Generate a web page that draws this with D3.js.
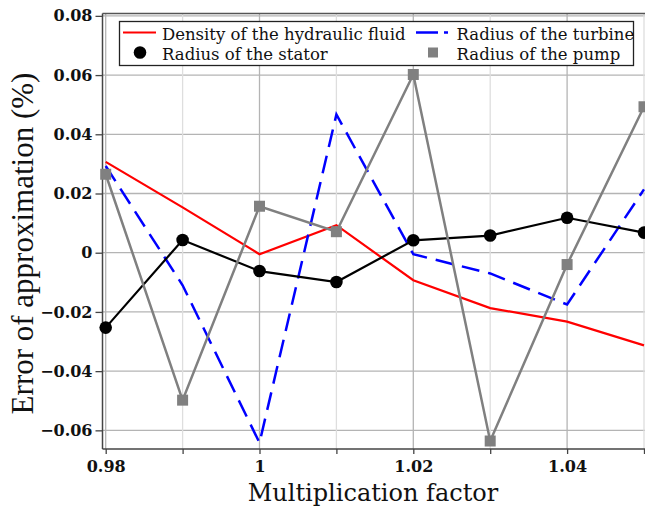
<!DOCTYPE html>
<html>
<head>
<meta charset="utf-8">
<script src="https://cdn.jsdelivr.net/npm/d3@7"></script>
<style>
  html, body { margin: 0; padding: 0; background: #fff; overflow: hidden; }
  svg { display: block; }
</style>
</head>
<body>
<svg id="chart" width="645" height="506"></svg>
<script>
// Multiplication factors applied to each parameter
const factors = [0.98, 0.99, 1.00, 1.01, 1.02, 1.03, 1.04, 1.05];

// Error of approximation (%) for each varied parameter
const densityFluid = [0.0307, 0.0153, -0.0005, 0.0093, -0.0093, -0.0187, -0.0233, -0.0313];
const radiusTurbine = [0.0293, -0.011, -0.0642, 0.0467, -0.0005, -0.007, -0.0175, 0.0214];
const radiusStator = [-0.0253, 0.0043, -0.0062, -0.0099, 0.0042, 0.0058, 0.0118, 0.0068];
const radiusPump = [0.0265, -0.0498, 0.0157, 0.0071, 0.0602, -0.0636, -0.004, 0.0493];

// Axis ticks
const yTicks = [-0.06, -0.04, -0.02, 0, 0.02, 0.04, 0.06, 0.08];
const yTickLabels = ["\u22120.06", "\u22120.04", "\u22120.02", "0", "0.02", "0.04", "0.06", "0.08"];
const xTicks = [0.98, 0.99, 1.00, 1.01, 1.02, 1.03, 1.04, 1.05];
const xTickLabels = ["0.98", "", "1", "", "1.02", "", "1.04", ""];

const seriesNames = ["Density of the hydraulic fluid", "Radius of the turbine", "Radius of the stator", "Radius of the pump"];

const svg = d3.select("#chart");
const plotLeft = 102.5, plotRight = 645, plotTop = 13.5, plotBottom = 449;

const x = d3.scaleLinear().domain([0.98, 1.05]).range([105.7, 644]);
const y = d3.scaleLinear().domain([-0.0663, 0.0808]).range([plotBottom, plotTop]);

// Grid
const grid = svg.append("g");
grid.selectAll("line.h").data(yTicks).join("line")
  .attr("x1", plotLeft).attr("x2", plotRight)
  .attr("y1", d => y(d)).attr("y2", d => y(d))
  .attr("stroke", "#b4b4b4").attr("stroke-width", 1.3);
grid.selectAll("line.v").data(xTicks).join("line")
  .attr("x1", d => x(d)).attr("x2", d => x(d))
  .attr("y1", plotTop).attr("y2", plotBottom)
  .attr("stroke", (d, i) => i % 2 === 0 ? "#b4b4b4" : "#dedede")
  .attr("stroke-width", 1.3);

// Frame line along the top
svg.append("line").attr("x1", plotLeft).attr("x2", plotRight).attr("y1", plotTop).attr("y2", plotTop)
  .attr("stroke", "#555").attr("stroke-width", 1.3);

// Axes
const yAxis = d3.axisLeft(y).tickValues(yTicks).tickSize(7).tickPadding(3)
  .tickFormat((d, i) => yTickLabels[i]);
const gy = svg.append("g").attr("transform", `translate(${plotLeft},0)`).call(yAxis);
gy.select(".domain").attr("d", `M0,${plotTop}V${plotBottom}`).attr("stroke", "#444").attr("stroke-width", 1.5);

const xAxis = d3.axisBottom(x).tickValues(xTicks).tickSize(5).tickPadding(7)
  .tickFormat((d, i) => xTickLabels[i]);
const gx = svg.append("g").attr("transform", `translate(0,${plotBottom})`).call(xAxis);
gx.select(".domain").attr("d", `M${plotLeft},0H${plotRight}`).attr("stroke", "#444").attr("stroke-width", 1.5);
// unlabeled minor ticks carry no text element
gx.selectAll(".tick text").filter(function () { return this.textContent === ""; }).remove();

[gx, gy].forEach(g => {
  g.selectAll(".tick line").attr("stroke", "#444").attr("stroke-width", 1.3);
  g.selectAll(".tick text")
    .attr("fill", "#111")
    .style("font-family", "'DejaVu Serif', serif")
    .style("font-weight", "bold")
    .style("font-size", "16px");
});

// Axis titles
svg.append("text")
  .attr("x", 373).attr("y", 500.5)
  .attr("text-anchor", "middle")
  .attr("fill", "#111")
  .style("font-family", "'DejaVu Serif', serif")
  .style("font-size", "24px")
  .text("Multiplication factor");

svg.append("text")
  .attr("transform", "translate(33,243.5) rotate(-90)")
  .attr("text-anchor", "middle")
  .attr("fill", "#111")
  .style("font-family", "'Liberation Serif', 'Times New Roman', serif")
  .style("font-size", "31px")
  .text("Error of approximation (%)");

// Series
const line = d3.line().x((d, i) => x(factors[i])).y(d => y(d));
const plot = svg.append("g");

plot.append("path").datum(densityFluid).attr("d", line)
  .attr("fill", "none").attr("stroke", "#ff0000").attr("stroke-width", 2.2);

plot.append("path").datum(radiusTurbine).attr("d", line)
  .attr("fill", "none").attr("stroke", "#0000ff").attr("stroke-width", 2.5)
  .attr("stroke-dasharray", "18,9");

plot.append("path").datum(radiusStator).attr("d", line)
  .attr("fill", "none").attr("stroke", "#000").attr("stroke-width", 2.2);
plot.selectAll("circle.stator").data(radiusStator).join("circle")
  .attr("cx", (d, i) => x(factors[i])).attr("cy", d => y(d)).attr("r", 6.3)
  .attr("fill", "#000");

plot.append("path").datum(radiusPump).attr("d", line)
  .attr("fill", "none").attr("stroke", "#808080").attr("stroke-width", 2.5);
const sq = 11;
plot.selectAll("rect.pump").data(radiusPump).join("rect")
  .attr("x", (d, i) => x(factors[i]) - sq / 2).attr("y", d => y(d) - sq / 2)
  .attr("width", sq).attr("height", sq)
  .attr("fill", "#808080");

// Legend
const lg = svg.append("g");
lg.append("rect").attr("x", 119.5).attr("y", 21.5).attr("width", 514).attr("height", 44)
  .attr("fill", "#fff").attr("stroke", "#222").attr("stroke-width", 1.3);

const legendText = (tx, ty, s) => lg.append("text").attr("x", tx).attr("y", ty)
  .attr("fill", "#111")
  .style("font-family", "'DejaVu Serif', serif")
  .style("font-size", "16.5px")
  .text(s);

lg.append("line").attr("x1", 123).attr("x2", 156).attr("y1", 32.5).attr("y2", 32.5)
  .attr("stroke", "#ff0000").attr("stroke-width", 2.2);
legendText(162, 39.5, seriesNames[0]);

lg.append("line").attr("x1", 416).attr("x2", 448).attr("y1", 32.5).attr("y2", 32.5)
  .attr("stroke", "#0000ff").attr("stroke-width", 2.5).attr("stroke-dasharray", "22,6");
legendText(456.5, 39.5, seriesNames[1]);

lg.append("circle").attr("cx", 140).attr("cy", 52.5).attr("r", 6.3).attr("fill", "#000");
legendText(162, 60, seriesNames[2]);

lg.append("rect").attr("x", 433 - 5).attr("y", 52.5 - 5).attr("width", 10).attr("height", 10)
  .attr("fill", "#808080");
legendText(456.5, 60, seriesNames[3]);
</script>
</body>
</html>
